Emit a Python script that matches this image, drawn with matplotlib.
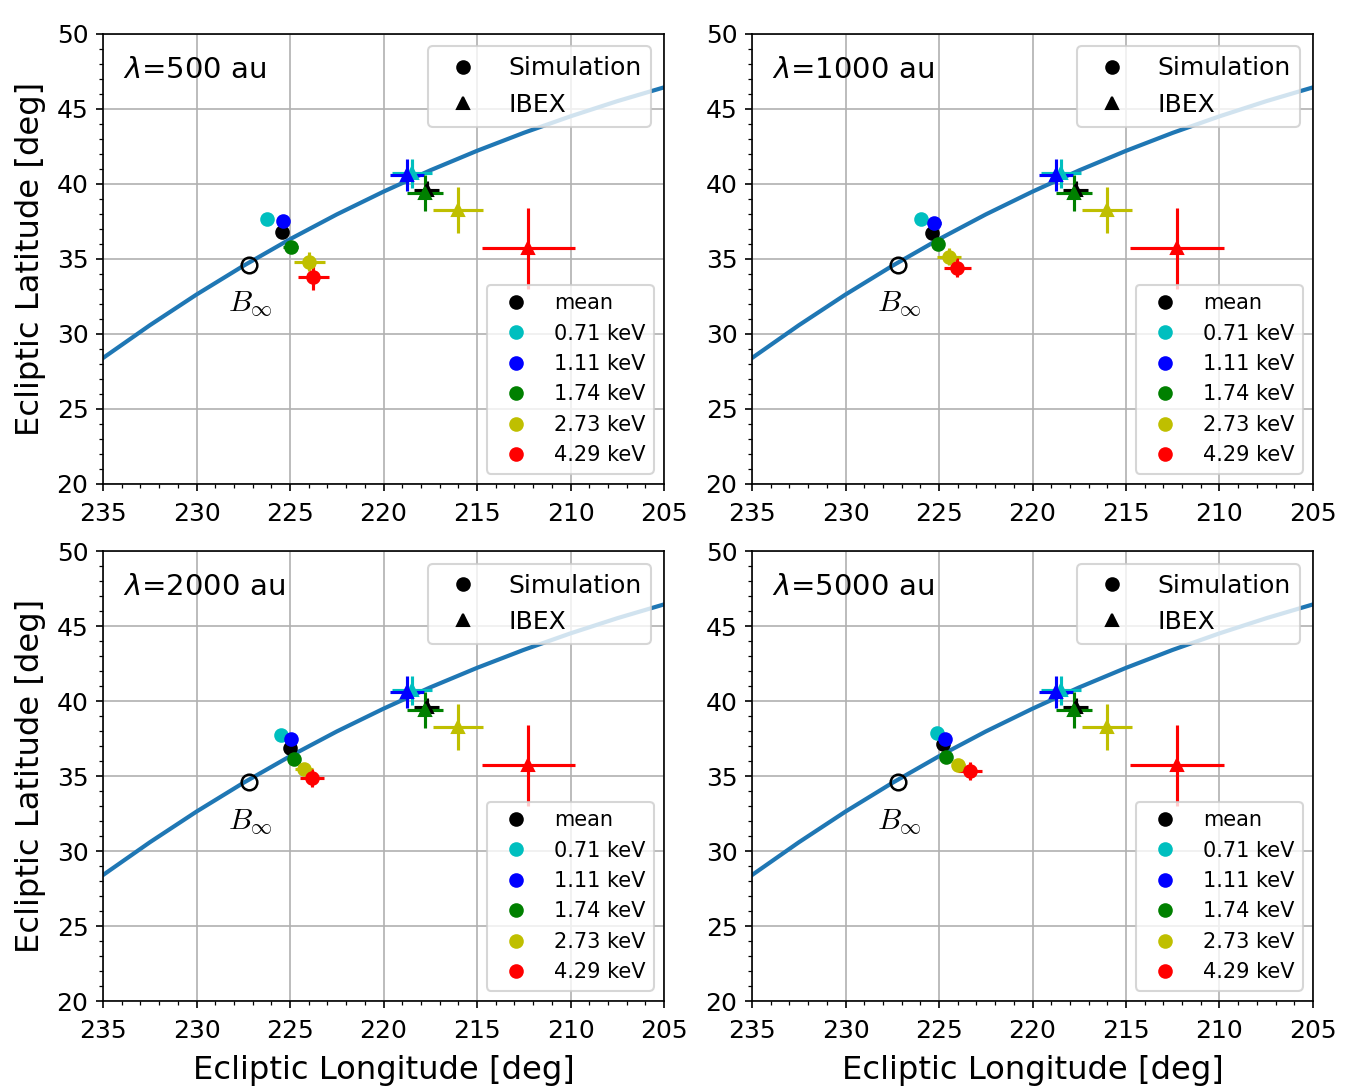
import matplotlib
matplotlib.use("Agg")
import matplotlib.pyplot as plt
import numpy as np
from matplotlib.lines import Line2D
from matplotlib.ticker import MultipleLocator

# energy channels and colours
labels = ['mean', '0.71 keV', '1.11 keV', '1.74 keV', '2.73 keV', '4.29 keV']
colors = ['k', 'c', 'b', 'g', 'y', 'r']

# distances of the four panels
lambdas = [500, 1000, 2000, 5000]

# simulated ribbon centres (lon, lat) per panel, order as labels
sim_lon = [[225.45, 226.25, 225.39, 224.96, 223.97, 223.75],
           [225.36, 225.98, 225.27, 225.04, 224.47, 224.02],
           [225.00, 225.48, 224.96, 224.79, 224.25, 223.82],
           [224.79, 225.09, 224.68, 224.61, 223.97, 223.34]]
sim_lat = [[36.82, 37.69, 37.53, 35.82, 34.82, 33.82],
           [36.75, 37.65, 37.42, 35.98, 35.15, 34.42],
           [36.85, 37.73, 37.47, 36.15, 35.47, 34.85],
           [37.13, 37.85, 37.47, 36.29, 35.73, 35.33]]
sim_lon_err = [[0.05, 0.05, 0.15, 0.40, 0.83, 0.85],
               [0.05, 0.05, 0.35, 0.25, 0.62, 0.71],
               [0.10, 0.05, 0.20, 0.20, 0.50, 0.65],
               [0.05, 0.05, 0.15, 0.15, 0.35, 0.65]]
sim_lat_err = [[0.05, 0.05, 0.15, 0.35, 0.63, 0.87],
               [0.05, 0.05, 0.20, 0.15, 0.55, 0.64],
               [0.10, 0.05, 0.20, 0.20, 0.30, 0.60],
               [0.05, 0.05, 0.15, 0.15, 0.25, 0.60]]

# IBEX ribbon centres
ibex_lon = [217.69, 218.49, 218.76, 217.78, 216.03, 212.26]
ibex_lat = [39.60, 40.71, 40.60, 39.38, 38.27, 35.71]
ibex_lon_err = [0.67, 1.07, 0.90, 0.98, 1.34, 2.50]
ibex_lat_err = [0.60, 0.95, 1.05, 1.20, 1.52, 2.70]

# B infinity direction
binf_lon = 227.2
binf_lat = 34.6

# great circle through B_inf
gc_lon = [235, 232.5, 230, 227.5, 225, 222.5, 220, 217.5, 215, 212.5, 210, 207.5, 205]
gc_lat = [28.40, 30.58, 32.63, 34.54, 36.32, 37.97, 39.49, 40.91, 42.21, 43.41, 44.51, 45.52, 46.44]

fig, axs = plt.subplots(2, 2, figsize=(1349/150, 1089/150), dpi=150)
fig.subplots_adjust(left=0.0764, right=0.9733, top=0.9688, bottom=0.0808,
                    wspace=0.157, hspace=0.149)

for k, ax in enumerate(axs.flat):
    ax.plot(gc_lon, gc_lat, color='C0', lw=2, zorder=1)
    ax.plot(binf_lon, binf_lat, 'o', mfc='none', mec='k', ms=7.5, mew=1.2, zorder=3)
    ax.text(binf_lon - 0.1, binf_lat - 2.6, r'$B_\infty$', fontsize=14.5,
            math_fontfamily='cm', ha='center', va='center')

    # IBEX
    for i in range(len(labels)):
        ax.errorbar(ibex_lon[i], ibex_lat[i], xerr=ibex_lon_err[i], yerr=ibex_lat_err[i],
                    fmt='^', color=colors[i], ms=6, zorder=3)
    # simulation
    for i in range(len(labels)):
        ax.errorbar(sim_lon[k][i], sim_lat[k][i], xerr=sim_lon_err[k][i],
                    yerr=sim_lat_err[k][i], fmt='o', color=colors[i], ms=6, zorder=4)

    ax.set_xlim(235, 205)
    ax.set_ylim(20, 50)
    ax.xaxis.set_major_locator(MultipleLocator(5))
    ax.xaxis.set_minor_locator(MultipleLocator(1))
    ax.yaxis.set_major_locator(MultipleLocator(5))
    ax.yaxis.set_minor_locator(MultipleLocator(1))
    ax.tick_params(labelsize=12)
    ax.tick_params(axis='x', which='major', pad=5)
    ax.grid(True, which='major')
    ax.set_axisbelow(True)

    ax.text(0.035, 0.92, r'$\lambda$=%d au' % lambdas[k], transform=ax.transAxes,
            fontsize=14, ha='left', va='center')

    h1 = [Line2D([], [], ls='none', marker='o', color='k', label='Simulation'),
          Line2D([], [], ls='none', marker='^', color='k', label='IBEX')]
    leg1 = ax.legend(handles=h1, loc='upper right', fontsize=12)
    ax.add_artist(leg1)
    h2 = [Line2D([], [], ls='none', marker='o', color=c, label=l)
          for c, l in zip(colors, labels)]
    ax.legend(handles=h2, loc='lower right', fontsize=10)

for ax in axs[:, 0]:
    ax.set_ylabel('Ecliptic Latitude [deg]', fontsize=15.5, labelpad=5)
for ax in axs[1, :]:
    ax.set_xlabel('Ecliptic Longitude [deg]', fontsize=15.5, labelpad=6)

fig.savefig('out.png', dpi=150)
